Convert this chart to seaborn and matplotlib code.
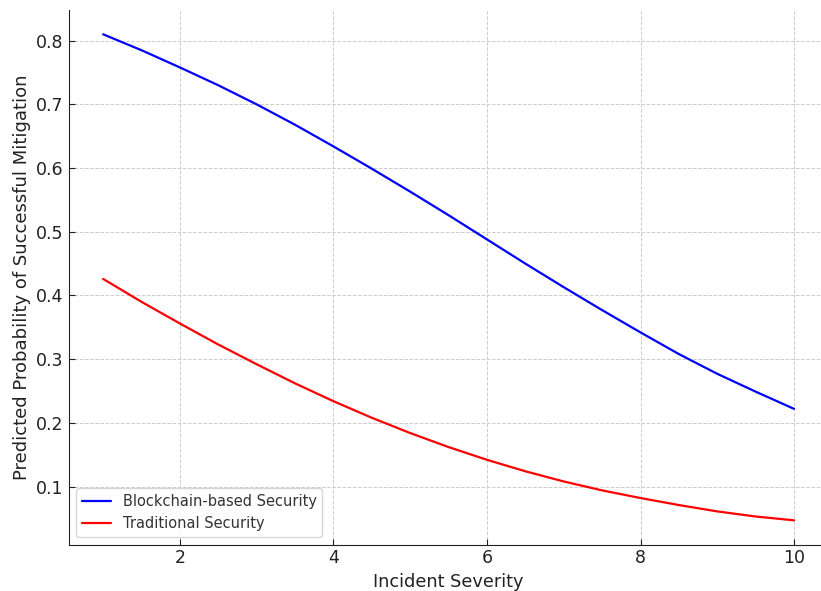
import numpy as np
import pandas as pd
import matplotlib
matplotlib.use("Agg")
import matplotlib.pyplot as plt
import seaborn as sns

# values, half-step severity grid
severity = [1, 1.5, 2, 2.5, 3, 3.5, 4, 4.5, 5, 5.5, 6, 6.5, 7, 7.5, 8, 8.5, 9, 9.5, 10]
blockchain = [0.810, 0.785, 0.758, 0.730, 0.700, 0.668, 0.634, 0.599, 0.563, 0.526,
              0.488, 0.450, 0.413, 0.377, 0.342, 0.308, 0.277, 0.249, 0.222]
traditional = [0.426, 0.390, 0.356, 0.323, 0.292, 0.262, 0.234, 0.208, 0.184, 0.162,
               0.142, 0.124, 0.108, 0.094, 0.082, 0.071, 0.061, 0.053, 0.047]
series_names = ["Blockchain-based Security", "Traditional Security"]

df = pd.DataFrame({
    "Incident Severity": severity * 2,
    "prob": blockchain + traditional,
    "Method": [series_names[0]] * len(severity) + [series_names[1]] * len(severity),
})

sns.set_style("ticks")
plt.rcParams["font.family"] = ["DejaVu Sans"]

fig = plt.figure(figsize=(8.21, 5.91), dpi=100)
# axes runs a bit past the right edge like the cropped original
ax = fig.add_axes([68.6 / 821, 1 - 544.6 / 591, 760 / 821, (544.6 - 10.1) / 591])

sns.lineplot(data=df, x="Incident Severity", y="prob", hue="Method",
             palette=["blue", "red"], linewidth=1.6, ax=ax)

ax.set_xlim(0.55, 10.45)
ax.set_ylim(0.0089, 0.848)
ax.set_xticks([2, 4, 6, 8, 10])
ax.set_yticks([0.1, 0.2, 0.3, 0.4, 0.5, 0.6, 0.7, 0.8])
ax.set_xlabel("Incident Severity", fontsize=12.8, color="#222222")
ax.set_ylabel("Predicted Probability of Successful Mitigation", fontsize=13, color="#222222")
ax.tick_params(direction="in", length=4, labelsize=12.5, colors="#222222")
ax.grid(True, linestyle="--", color="#cccccc", linewidth=0.7)

for side in ["top", "right"]:
    ax.spines[side].set_visible(False)
for side in ["left", "bottom"]:
    ax.spines[side].set_color("#222222")

leg = ax.legend(loc="lower left", fontsize=10.5, frameon=True, fancybox=True)
leg.get_frame().set_edgecolor("#cccccc")
for t in leg.get_texts():
    t.set_color("#333333")

fig.savefig("out.png", dpi=100)
